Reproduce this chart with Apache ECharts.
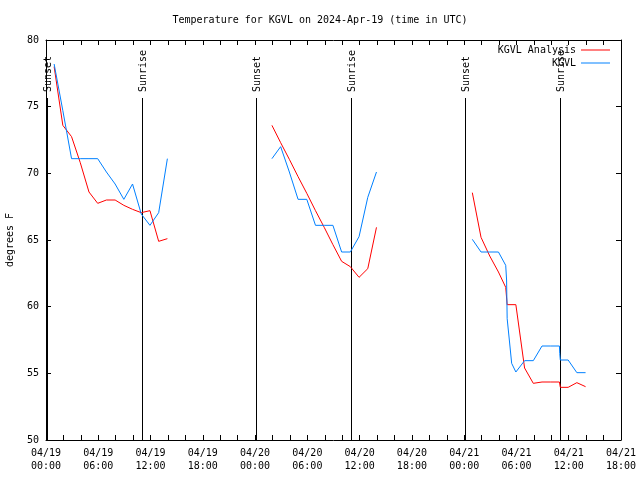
<!DOCTYPE html>
<html><head><meta charset="utf-8">
<script src="https://cdn.jsdelivr.net/npm/echarts@6/dist/echarts.min.js"></script>
<style>html,body{margin:0;padding:0;background:#fff}#c{width:640px;height:480px}</style>
</head><body><div id="c"></div>
<script>
// ---- data ----
const day1Times = ['2024-04-19T00:56Z','2024-04-19T01:56Z','2024-04-19T02:56Z','2024-04-19T03:56Z','2024-04-19T04:56Z','2024-04-19T05:56Z','2024-04-19T06:56Z','2024-04-19T07:56Z','2024-04-19T08:56Z','2024-04-19T09:56Z','2024-04-19T10:56Z','2024-04-19T11:56Z','2024-04-19T12:56Z','2024-04-19T13:56Z'];
const day1Obs = [78.2, 74.7, 71.1, 71.1, 71.1, 71.1, 70.1, 69.2, 68.05, 69.2, 66.95, 66.1, 67.05, 71.1];
const day1Ana = [78.0, 73.6, 72.75, 70.8, 68.6, 67.75, 68.0, 68.0, 67.6, 67.3, 67.05, 67.2, 64.9, 65.1];

const day2Times = ['2024-04-20T01:56Z','2024-04-20T02:56Z','2024-04-20T03:56Z','2024-04-20T04:56Z','2024-04-20T05:56Z','2024-04-20T06:56Z','2024-04-20T07:56Z','2024-04-20T08:56Z','2024-04-20T09:56Z','2024-04-20T10:56Z','2024-04-20T11:56Z','2024-04-20T12:56Z','2024-04-20T13:56Z'];
const day2Obs = [71.1, 72.0, 70.1, 68.05, 68.05, 66.1, 66.1, 66.1, 64.1, 64.1, 65.25, 68.2, 70.1];
const day2Ana = [73.6, 72.3, 71.05, 69.75, 68.5, 67.2, 65.95, 64.65, 63.4, 63.0, 62.2, 62.85, 65.95];

const day3ObsTimes = ['2024-04-21T00:56Z','2024-04-21T01:56Z','2024-04-21T02:56Z','2024-04-21T03:56Z','2024-04-21T04:46Z','2024-04-21T04:52Z','2024-04-21T04:56Z','2024-04-21T05:11Z','2024-04-21T05:27Z','2024-04-21T05:56Z','2024-04-21T06:56Z','2024-04-21T07:56Z','2024-04-21T08:56Z','2024-04-21T09:56Z','2024-04-21T10:56Z','2024-04-21T10:58Z','2024-04-21T11:02Z','2024-04-21T11:56Z','2024-04-21T12:56Z','2024-04-21T13:56Z'];
const day3Obs = [65.05, 64.1, 64.1, 64.1, 63.1, 62.0, 59.1, 57.5, 55.75, 55.1, 55.95, 55.95, 57.05, 57.05, 57.05, 56.5, 56.0, 56.0, 55.05, 55.05];
const day3AnaTimes = ['2024-04-21T00:56Z','2024-04-21T01:56Z','2024-04-21T02:56Z','2024-04-21T03:56Z','2024-04-21T04:46Z','2024-04-21T04:52Z','2024-04-21T04:56Z','2024-04-21T05:56Z','2024-04-21T06:56Z','2024-04-21T07:56Z','2024-04-21T08:56Z','2024-04-21T09:56Z','2024-04-21T10:56Z','2024-04-21T11:02Z','2024-04-21T11:56Z','2024-04-21T12:56Z','2024-04-21T13:56Z'];
const day3Ana = [68.55, 65.2, 63.8, 62.6, 61.45, 61.3, 60.15, 60.15, 55.4, 54.25, 54.35, 54.35, 54.35, 53.95, 53.95, 54.3, 54.0];

const sunTimes = ['2024-04-19T00:05Z','2024-04-19T11:03Z','2024-04-20T00:08Z','2024-04-20T11:02Z','2024-04-21T00:08Z','2024-04-21T11:02Z'];
const sunLabels = ['Sunset','Sunrise','Sunset','Sunrise','Sunset','Sunrise'];

const xStart = '2024-04-19T00:00Z';
const xEnd = '2024-04-21T18:00Z';
const yTicks = [50, 55, 60, 65, 70, 75, 80];

// ---- chart ----
const FONT = '"DejaVu Sans Mono", "Liberation Mono", monospace';
const RED = '#ff0000', BLUE = '#0080ff';
const pair = (times, vals) => times.map((t, i) => [Date.parse(t), vals[i]]);
const HOUR = 3600 * 1000;
const xMin = Date.parse(xStart), xMax = Date.parse(xEnd);
const p2 = n => String(n).padStart(2, '0');
function xFmt(v) {
  const d = new Date(v);
  if (d.getUTCHours() % 6 !== 0 || d.getUTCMinutes() !== 0) return '';
  return p2(d.getUTCMonth() + 1) + '/' + p2(d.getUTCDate()) + '\n' + p2(d.getUTCHours()) + ':' + p2(d.getUTCMinutes());
}
function lineSeries(name, color, data) {
  return { name, type: 'line', data, symbol: 'none', showSymbol: false,
    lineStyle: { color, width: 1 }, itemStyle: { color }, animation: false, z: name === 'KGVL' ? 4 : 3 };
}
const axisLine = { show: true, onZero: false, lineStyle: { color: '#000', width: 1 } };
const tick = { show: true, inside: true, length: 5, lineStyle: { color: '#000', width: 1 } };

const chart = echarts.init(document.getElementById('c'), null, { renderer: 'canvas' });
chart.setOption({
  animation: false,
  backgroundColor: '#fff',
  title: { text: 'Temperature for KGVL on 2024-Apr-19 (time in UTC)', left: 'center', top: 10,
    textStyle: { fontFamily: FONT, fontSize: 10, fontWeight: 'normal', color: '#000' } },
  legend: [
    { data: ['KGVL Analysis'], right: 30, top: 44, align: 'right', orient: 'vertical', padding: 0,
      icon: 'rect', itemWidth: 29, itemHeight: 1, selectedMode: false,
      textStyle: { fontFamily: FONT, fontSize: 10, color: '#000', lineHeight: 12 } },
    { data: ['KGVL'], right: 30, top: 57, align: 'right', orient: 'vertical', padding: 0,
      icon: 'rect', itemWidth: 29, itemHeight: 1, selectedMode: false,
      textStyle: { fontFamily: FONT, fontSize: 10, color: '#000', lineHeight: 12 } }
  ],
  grid: { left: 46, right: 19, top: 40, bottom: 40, outerBoundsMode: 'none', containLabel: false },
  xAxis: [
    { type: 'value', min: xMin, max: xMax, interval: 2 * HOUR, position: 'bottom',
      axisLine, axisTick: tick, splitLine: { show: false },
      axisLabel: { formatter: xFmt, fontFamily: FONT, fontSize: 10, color: '#000', margin: 7, lineHeight: 13,
        showMinLabel: true, showMaxLabel: true } },
    { type: 'value', min: xMin, max: xMax, interval: 2 * HOUR, position: 'top',
      axisLine, axisTick: tick, splitLine: { show: false }, axisLabel: { show: false } }
  ],
  yAxis: [
    { type: 'value', min: yTicks[0], max: yTicks[yTicks.length - 1], interval: yTicks[1] - yTicks[0],
      name: 'degrees F', nameLocation: 'middle', nameGap: 31, nameRotate: 90,
      nameTextStyle: { fontFamily: FONT, fontSize: 10, color: '#000' },
      axisLine, axisTick: tick, splitLine: { show: false },
      axisLabel: { fontFamily: FONT, fontSize: 10, color: '#000', margin: 7 } },
    { type: 'value', min: yTicks[0], max: yTicks[yTicks.length - 1], interval: yTicks[1] - yTicks[0], position: 'right',
      axisLine, axisTick: tick, splitLine: { show: false }, axisLabel: { show: false } }
  ],
  series: [
    lineSeries('KGVL Analysis', RED, pair(day1Times, day1Ana)),
    lineSeries('KGVL Analysis', RED, pair(day2Times, day2Ana)),
    lineSeries('KGVL Analysis', RED, pair(day3AnaTimes, day3Ana)),
    lineSeries('KGVL', BLUE, pair(day1Times, day1Obs)),
    lineSeries('KGVL', BLUE, pair(day2Times, day2Obs)),
    lineSeries('KGVL', BLUE, pair(day3ObsTimes, day3Obs)),
    { type: 'custom', name: 'sun', clip: false, z: 2,
      data: sunTimes.map(t => [Date.parse(t), yTicks[0]]),
      renderItem: function (params, api) {
        const p = api.coord([api.value(0), api.value(1)]);
        const x = Math.round(p[0]) + 0.5;
        const cs = params.coordSys;
        const bottom = cs.y + cs.height;
        const top = cs.y + 58;
        return { type: 'group', children: [
          { type: 'line', shape: { x1: x, y1: top, x2: x, y2: bottom }, style: { stroke: '#000', lineWidth: 1 } },
          { type: 'text', x: x + 1, y: top - 6, rotation: Math.PI / 2,
            style: { text: sunLabels[params.dataIndex], fill: '#000', font: '10px ' + FONT, align: 'left', verticalAlign: 'middle' } }
        ] };
      } }
  ]
});
</script>
</body></html>
